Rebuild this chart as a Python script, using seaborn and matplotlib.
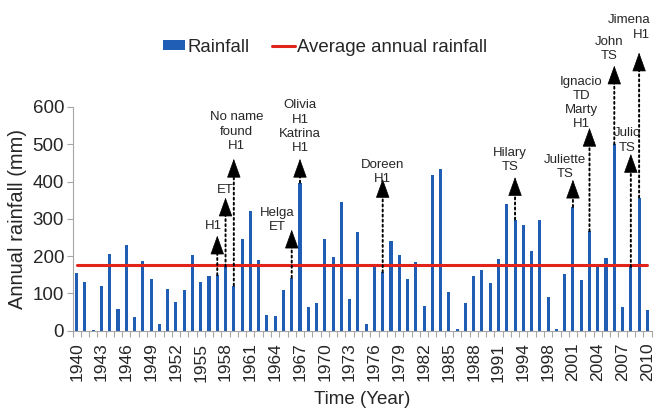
import matplotlib.pyplot as plt
import pandas as pd
import seaborn as sns
from matplotlib.lines import Line2D
from matplotlib.patches import Patch
from matplotlib.ticker import FixedLocator

# years on the category axis (one year is absent between 1994 and 1998)
years = list(range(1940, 1995)) + [1996, 1997] + list(range(1998, 2011))

rainfall = [154, 130, 3, 119, 205, 58, 231, 37, 186, 139,
            17, 111, 78, 108, 203, 130, 147, 149, 172, 121,
            247, 320, 189, 43, 39, 109, 142, 397, 63, 73,
            245, 198, 345, 85, 266, 17, 171, 157, 241, 204,
            139, 185, 66, 418, 434, 104, 4, 74, 147, 164,
            127, 192, 340, 298, 283, 214, 296, 90, 4, 153,
            332, 135, 267, 171, 196, 500, 63, 171, 357, 55]

avg_rainfall = 175

storm_years = [1957, 1958, 1959, 1966, 1967, 1977, 1993, 2001, 2003, 2006, 2008, 2009]
storm_labels = ["H1", "ET", "No name\nfound\nH1", "Helga\nET", "Olivia\nH1\nKatrina\nH1",
                "Doreen\nH1", "Hilary\nTS", "Juliette\nTS", "Ignacio\nTD\nMarty\nH1",
                "John\nTS", "Julio\nTS", "Jimena\nH1"]

# annotation placement: arrow tip (mm), label centre (mm), label x shift (bars)
arrow_tip = [255, 357, 461, 271, 461, 407, 412, 405, 544, 711, 474, 746]
label_y = [280, 378, 534, 296, 547, 425, 458, 440, 611, 755, 510, 813]
label_dx = [-0.45, 0, 0.35, -1.7, 0, 0, -0.64, -0.97, -1.0, -0.65, -0.4, 1.35]
head_len = 45  # arrow head length in mm units

df = pd.DataFrame({"year": [str(y) for y in years], "rain": rainfall})

sns.set_style("white")
plt.rcParams['font.family'] = ['Liberation Sans', 'DejaVu Sans']

bar_color = "#1F5EB4"
red = "#E2231A"
grey = "#A6A6A6"

fig = plt.figure(figsize=(6.54, 4.09), dpi=100)
ax = fig.add_axes([0.1109, 0.1914, 0.8853, 0.547])

sns.barplot(data=df, x="year", y="rain", color=bar_color, width=0.37,
            saturation=1, linewidth=0, ax=ax)
n = len(years)
ax.plot(range(n), [avg_rainfall] * n, color=red, lw=2.2, zorder=3)

ax.set_xlim(-0.5, n - 0.5)
ax.set_ylim(0, 600)
ax.set_yticks(range(0, 601, 100))
ax.set_xticks(range(0, n, 3))
ax.set_xticklabels([str(years[i]) for i in range(0, n, 3)], rotation=90)
ax.xaxis.set_minor_locator(FixedLocator([i - 0.5 for i in range(n + 1)]))
ax.tick_params(axis='x', which='major', length=0, pad=8.5, labelsize=12.5)
ax.tick_params(axis='x', which='minor', length=4, width=0.8, color=grey, direction='out', bottom=True)
ax.tick_params(axis='y', length=4, width=0.8, color=grey, direction='out', left=True, pad=2,
               labelsize=13.5)

for side in ['top', 'right']:
    ax.spines[side].set_visible(False)
for side in ['left', 'bottom']:
    ax.spines[side].set_color(grey)
    ax.spines[side].set_linewidth(0.8)

ax.set_xlabel("Time (Year)", fontsize=13.5, labelpad=7)
ax.set_ylabel("Annual rainfall (mm)", fontsize=14.5, labelpad=4)

for yr, text, tip, ly, dx in zip(storm_years, storm_labels, arrow_tip, label_y, label_dx):
    i = years.index(yr)
    top = rainfall[i]
    # dotted stem
    ax.annotate("", xy=(i, tip - head_len * 0.6), xytext=(i, top),
                arrowprops=dict(arrowstyle="-", linestyle=(0, (1, 1.6)), lw=1.4,
                                color="black", shrinkA=0, shrinkB=0),
                annotation_clip=False, zorder=4)
    # solid head
    ax.annotate("", xy=(i, tip), xytext=(i, tip - head_len),
                arrowprops=dict(arrowstyle="-|>,head_length=1.25,head_width=0.45",
                                lw=0.5, color="black", shrinkA=0, shrinkB=0,
                                mutation_scale=10),
                annotation_clip=False, zorder=4)
    ha = 'right' if dx > 1 else 'center'
    ax.text(i + dx, ly, text, ha=ha, va='center', multialignment=ha,
            fontsize=9.5, linespacing=1.25, clip_on=False, zorder=5)

handles = [Patch(facecolor=bar_color, edgecolor='none', label="Rainfall"),
           Line2D([], [], color=red, lw=2.2, label="Average annual rainfall")]
fig.legend(handles=handles, loc='center', bbox_to_anchor=(0.497, 0.885), ncol=2,
           frameon=False, fontsize=13.4, handlelength=1.2, handleheight=0.4,
           handletextpad=0.15, columnspacing=1.2, borderpad=0)

fig.savefig("out.png", dpi=100)
